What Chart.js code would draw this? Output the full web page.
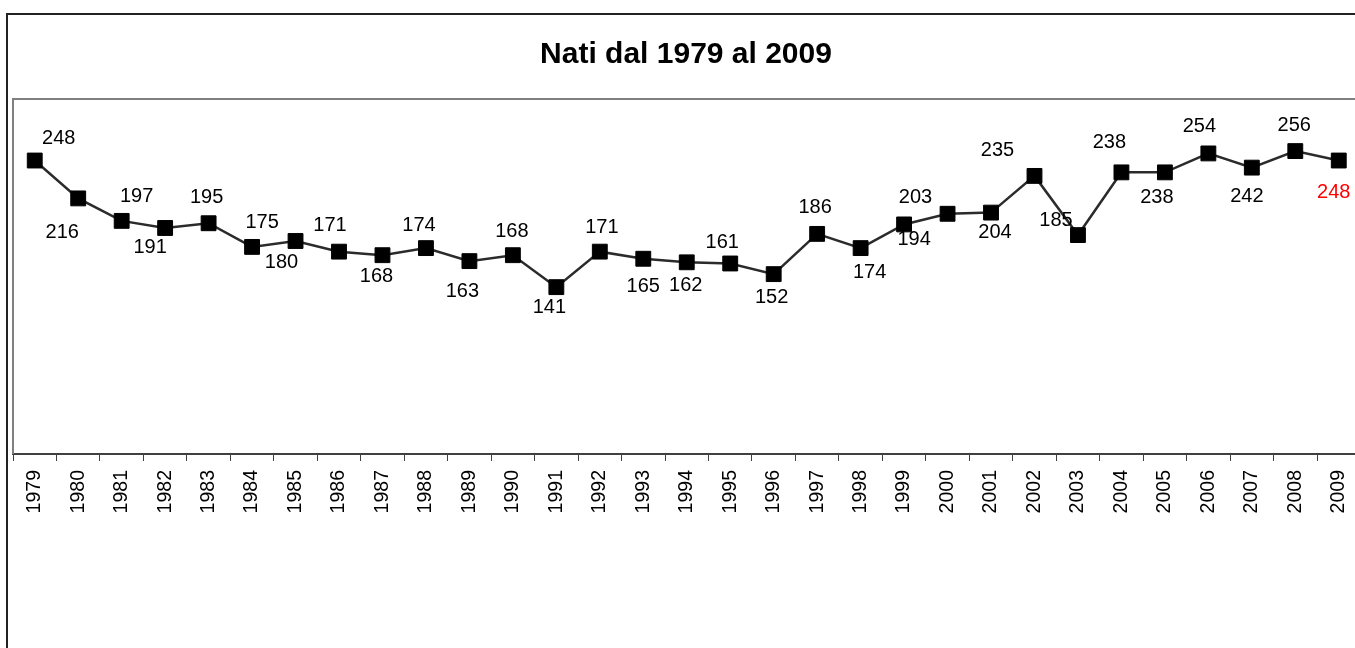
<!DOCTYPE html>
<html lang="it">
<head>
    <meta charset="utf-8">
    <title>Nati dal 1979 al 2009</title>
    <script src="https://cdn.jsdelivr.net/npm/chart.js@4.4.1/dist/chart.umd.min.js"></script>
    <style>
        body {
            margin: 0;
            overflow: hidden;
            background: #fff;
            font-family: "Liberation Sans", Arial, sans-serif;
        }

        .cornice {
            position: absolute;
            left: 6px;
            top: 13px;
            width: 2000px;
            height: 2000px;
            border: 2px solid #222;
        }

        #grafico {
            position: absolute;
            left: 0;
            top: 0;
        }
    </style>
</head>
<body>
<div class="cornice"></div>
<canvas id="grafico" width="1372" height="648"></canvas>

<script>
    // data
    var anni = ['1979', '1980', '1981', '1982', '1983', '1984', '1985', '1986',
        '1987', '1988', '1989', '1990', '1991', '1992', '1993', '1994', '1995',
        '1996', '1997', '1998', '1999', '2000', '2001', '2002', '2003', '2004',
        '2005', '2006', '2007', '2008', '2009'];
    var nati = [248, 216, 197, 191, 195, 175, 180, 171, 168, 174, 163, 168, 141,
        171, 165, 162, 161, 152, 186, 174, 194, 203, 204, 235, 185, 238, 238,
        254, 242, 256, 248];

    // where each value label sits, relative to its marker (dx, dy)
    var spostamenti = [[24, -22], [-16, 34], [15, -24], [-15, 20], [-2, -26],
        [10, -24], [-14, 21], [-9, -26], [-6, 21], [-7, -23], [-7, 30],
        [-1, -24], [-7, 20], [2, -24], [0, 28], [-1, 23], [-8, -21], [-2, 23],
        [-2, -26], [9, 24], [10, 15], [-32, -16], [4, 20], [-37, -25],
        [-22, -15], [-12, -30], [-8, 25], [-9, -27], [-5, 29], [-1, -26],
        [-5, 32]];

    var titolo = 'Nati dal 1979 al 2009';
    var font = '"Liberation Sans", Arial, sans-serif';

    // title, plot frame and value labels
    var decorazioni = {
        id: 'decorazioni',
        beforeDatasetsDraw: function (chart) {
            var ctx = chart.ctx;
            var a = chart.chartArea;
            ctx.save();
            ctx.strokeStyle = '#808080';
            ctx.lineWidth = 2;
            ctx.beginPath();
            ctx.moveTo(a.left, a.bottom);
            ctx.lineTo(a.left, a.top);
            ctx.lineTo(a.right, a.top);
            ctx.lineTo(a.right, a.bottom);
            ctx.stroke();
            ctx.restore();
        },
        afterDatasetsDraw: function (chart) {
            var ctx = chart.ctx;
            var meta = chart.getDatasetMeta(0);
            ctx.save();
            ctx.font = 'bold 30px ' + font;
            ctx.fillStyle = '#000';
            ctx.textAlign = 'center';
            ctx.textBaseline = 'middle';
            ctx.fillText(titolo, chart.width / 2, 55);

            ctx.font = '20px ' + font;
            meta.data.forEach(function (p, i) {
                ctx.fillStyle = i === nati.length - 1 ? '#ff0000' : '#000';
                ctx.fillText(String(nati[i]), p.x + spostamenti[i][0], p.y + spostamenti[i][1]);
            });
            ctx.restore();
        }
    };

    var ctx = document.getElementById('grafico').getContext('2d');
    var chart = new Chart(ctx, {
        type: 'line',
        data: {
            labels: anni,
            datasets: [{
                data: nati,
                borderColor: '#2b2b2b',
                borderWidth: 2.5,
                pointStyle: 'rect',
                pointRadius: 10.5,
                pointBorderWidth: 1,
                pointBackgroundColor: '#000',
                pointBorderColor: '#000',
                tension: 0
            }]
        },
        options: {
            responsive: false,
            animation: false,
            layout: {
                padding: {left: 13, right: 9, top: 99, bottom: 0}
            },
            plugins: {
                legend: {display: false},
                title: {display: false},
                tooltip: {enabled: false}
            },
            scales: {
                x: {
                    offset: true,
                    afterFit: function (scale) {
                        scale.height = 648 - 454;
                    },
                    border: {color: '#404040', width: 2},
                    grid: {
                        offset: true,
                        drawOnChartArea: false,
                        tickLength: 7,
                        color: '#404040',
                        lineWidth: 1
                    },
                    ticks: {
                        autoSkip: false,
                        minRotation: 90,
                        maxRotation: 90,
                        padding: 9,
                        color: '#000',
                        font: {family: font, size: 19.5}
                    }
                },
                y: {
                    display: false,
                    min: 0,
                    max: 300
                }
            }
        },
        plugins: [decorazioni]
    });
</script>
</body>
</html>
